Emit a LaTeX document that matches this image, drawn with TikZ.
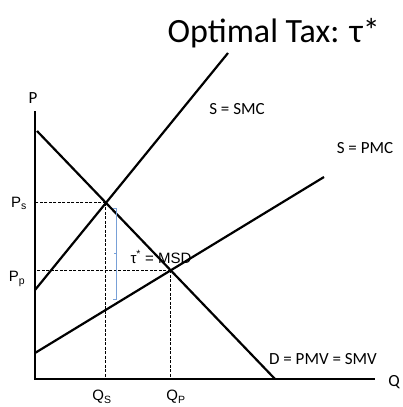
\documentclass[tikz,border=0pt]{standalone}
\usepackage{fontspec}
\setmainfont{Carlito}
\newfontfamily\arialfont{Liberation Sans}
\usetikzlibrary{calc}
\definecolor{bracketblue}{RGB}{120,160,215}

\begin{document}
\begin{tikzpicture}[x=1pt,y=-1pt,
  curve/.style={line width=2.2pt},
  guide/.style={line width=1pt,dash pattern=on 3pt off 1.5pt},
  lbl/.style={font=\fontsize{17}{17}\selectfont},
  albl/.style={font=\arialfont\fontsize{15}{15}\selectfont}]
\useasboundingbox (0,0) rectangle (402,407);
\coordinate (O) at (35,379); \coordinate (T) at (35,111); \coordinate (R) at (375,379);
\coordinate (D1) at (37,131); \coordinate (D2) at (275,379);
\coordinate (S1) at (35,290); \coordinate (S2) at (228,53);
\coordinate (P1) at (35,353); \coordinate (P2) at (324,177);
\coordinate (E) at (intersection of D1--D2 and S1--S2);
\coordinate (F) at (intersection of D1--D2 and P1--P2);
\draw[curve] (T)--(O)--(R);
\draw[curve] (D1)--(D2); \draw[curve] (S1)--(S2); \draw[curve] (P1)--(P2);
\draw[guide] (E)--(O|-E); \draw[guide] (E)--(E|-O);
\draw[guide] (F)--(O|-F); \draw[guide] (F)--(F|-O);
\coordinate (B1) at (116,208); \coordinate (B2) at (116,299);
\draw[bracketblue] ($(B1)+(-3,0)$)--(B1)--(B2)--($(B2)+(-3,0)$);
\draw[bracketblue] ($(B1)!0.5!(B2)$)--++(-2,0);
\node[font=\fontsize{34}{34}\selectfont,anchor=base east,inner sep=0pt] (title) at (380,42) {Optimal Tax: τ*};
\node[lbl] (p) at (33,98) {P};
\node[lbl] (q) at (394,382) {Q};
\node[lbl] (smc) at (237,109) {S = SMC};
\node[lbl] (pmc) at (365,148) {S = PMC};
\node[lbl] (smv) at (323,359) {D = PMV = SMV};
\node[albl] (msd) at (161,257) {τ\textsuperscript{*} = MSD};
\node[albl] (ps) at (19,203) {P\textsubscript{s}};
\node[albl] (pp) at (17,279) {P\textsubscript{p}};
\node[albl] (qs) at (102,397) {Q\textsubscript{S}};
\node[albl] (qp) at (176,397) {Q\textsubscript{P}};
\end{tikzpicture}
\end{document}
